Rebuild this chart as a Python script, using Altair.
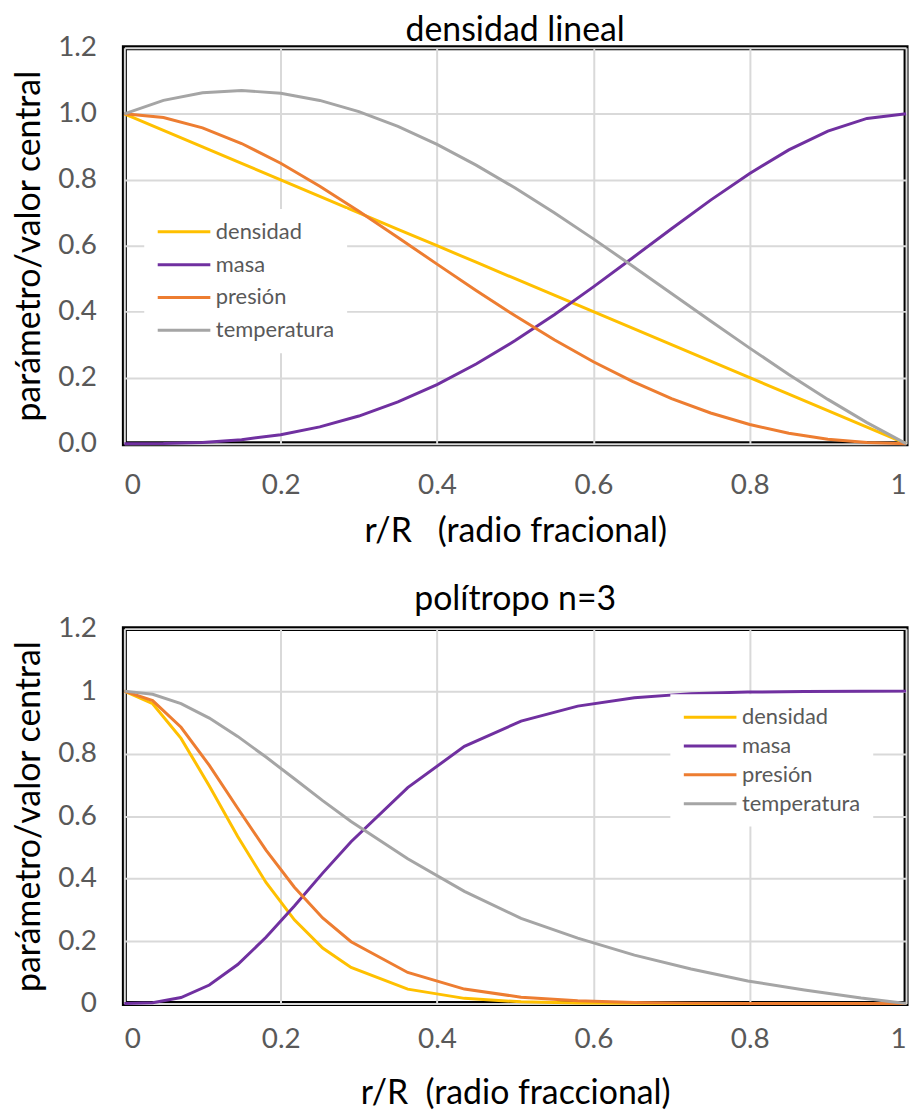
import altair as alt
import pandas as pd

FONT = "Lato"
series = ["densidad", "masa", "presión", "temperatura"]
colors = ["#FFC000", "#7030A0", "#ED7D31", "#A5A5A5"]

# ---- top panel: densidad lineal ----
top_x = [0.00, 0.05, 0.10, 0.15, 0.20, 0.25, 0.30, 0.35, 0.40, 0.45, 0.50,
         0.55, 0.60, 0.65, 0.70, 0.75, 0.80, 0.85, 0.90, 0.95, 1.00]
top_dens = [1.00, 0.95, 0.90, 0.85, 0.80, 0.75, 0.70, 0.65, 0.60, 0.55, 0.50,
            0.45, 0.40, 0.35, 0.30, 0.25, 0.20, 0.15, 0.10, 0.05, 0.00]
top_masa = [0.000, 0.0005, 0.0037, 0.0120, 0.0272, 0.0508, 0.0837, 0.1265, 0.1792, 0.2415, 0.3125,
            0.3910, 0.4752, 0.5630, 0.6517, 0.7383, 0.8192, 0.8905, 0.9477, 0.9860, 1.000]
top_pres = [1.000, 0.9887, 0.9574, 0.9100, 0.8500, 0.7805, 0.7046, 0.6251, 0.5443, 0.4645, 0.3875,
            0.3150, 0.2483, 0.1886, 0.1366, 0.0930, 0.0579, 0.0315, 0.0134, 0.0032, 0.000]
top_temp = [1.000, 1.0407, 1.0638, 1.0706, 1.0624, 1.0406, 1.0066, 0.9617, 0.9072, 0.8445, 0.7750,
            0.7000, 0.6208, 0.5388, 0.4554, 0.3719, 0.2896, 0.2099, 0.1342, 0.0638, 0.000]

# ---- bottom panel: polítropo n=3 ----
bot_x = [0.0, 0.0362, 0.0725, 0.1087, 0.145, 0.1812, 0.2175, 0.2537, 0.29, 0.3625,
         0.435, 0.5075, 0.58, 0.6525, 0.725, 0.7975, 0.87, 0.9425, 1.0]
bot_dens = [1.0, 0.9596, 0.8488, 0.6965, 0.5345, 0.3875, 0.2680, 0.1779, 0.1154, 0.0462,
            0.0167, 0.0055, 0.0019, 0.0006, 0.0002, 0.0000, 0.0, 0.0, 0.0]
bot_masa = [0.0, 0.0025, 0.0192, 0.0593, 0.1249, 0.212, 0.312, 0.4175, 0.518, 0.691,
            0.8235, 0.904, 0.952, 0.9785, 0.992, 0.997, 0.9988, 0.9999, 1.0]
bot_pres = [1.0, 0.9696, 0.8843, 0.7624, 0.6251, 0.4912, 0.3725, 0.2739, 0.1980, 0.0996,
            0.0464, 0.0203, 0.0092, 0.0037, 0.0014, 0.0004, 0.0001, 0.0000, 0.0]
bot_temp = [1.0, 0.9898, 0.9598, 0.9136, 0.8551, 0.789, 0.7195, 0.6494, 0.5828, 0.4635,
            0.3592, 0.2729, 0.2093, 0.155, 0.1108, 0.0723, 0.0437, 0.0175, 0.0]

ticks_x = [0, 0.2, 0.4, 0.6, 0.8, 1.0]
ticks_y = [0, 0.2, 0.4, 0.6, 0.8, 1.0, 1.2]

NB = "\u00a0"
top_xtitle = "r/R" + NB * 3 + "(radio fracional)"
bot_xtitle = "r/R" + NB * 2 + "(radio fraccional)"


def long_df(x, cols):
    rows = []
    for name, vals in zip(series, cols):
        for i, (xi, v) in enumerate(zip(x, vals)):
            rows.append({"r": xi, "valor": v, "serie": name, "orden": i})
    return pd.DataFrame(rows)


short_expr = "datum.value == 0 ? '0' : (datum.value == 1 ? '1' : format(datum.value, '.1f'))"


def panel(df, title, title_offset, y_expr, xtitle, height, x_lab_pad, x_title_pad,
          lx, ly, row_pad):
    legend = alt.Legend(
        title=None, orient="none", legendX=lx, legendY=ly,
        symbolType="stroke", symbolSize=2800, symbolStrokeWidth=3,
        labelFontSize=22, labelFont=FONT, labelColor="#595959", labelOffset=4,
        fillColor="white", padding=12, rowPadding=row_pad, clipHeight=22,
    )
    return alt.Chart(df).mark_line(strokeWidth=3).encode(
        x=alt.X("r:Q", scale=alt.Scale(domain=[0, 1], nice=False),
                axis=alt.Axis(values=ticks_x, labelExpr=short_expr, title=xtitle,
                              labelPadding=x_lab_pad, titlePadding=x_title_pad)),
        y=alt.Y("valor:Q", scale=alt.Scale(domain=[0, 1.2], nice=False),
                axis=alt.Axis(values=ticks_y, labelExpr=y_expr,
                              title="parámetro/valor central",
                              labelPadding=28, titlePadding=11)),
        color=alt.Color("serie:N", scale=alt.Scale(domain=series, range=colors), legend=legend),
        order="orden:Q",
    ).properties(
        width=786, height=height,
        title=alt.TitleParams(title, fontSize=34, font=FONT, fontWeight="normal",
                              color="black", offset=title_offset),
    )


top = panel(long_df(top_x, [top_dens, top_masa, top_pres, top_temp]),
            "densidad lineal", -14, "format(datum.value, '.1f')",
            top_xtitle, 398, 28, 15, 20, 162, 11)
bottom = panel(long_df(bot_x, [bot_dens, bot_masa, bot_pres, bot_temp]),
               "polítropo n=3", -2, short_expr,
               bot_xtitle, 377, 22, 23, 549, 66, 7)

chart = alt.vconcat(top, bottom, spacing=29).resolve_scale(color="independent").resolve_legend(
    color="independent"
).properties(
    padding={"left": 2, "top": 0, "right": 0, "bottom": 0}
).configure_view(
    stroke="black", strokeWidth=5
).configure_axis(
    ticks=False, domain=False, grid=True, gridColor="#D9D9D9", gridWidth=2,
    labelFont=FONT, labelFontSize=28, labelColor="#595959",
    titleFont=FONT, titleFontSize=34, titleFontWeight="normal", titleColor="black",
)

chart.save("out.html", embed_options={"renderer": "svg", "actions": False})
